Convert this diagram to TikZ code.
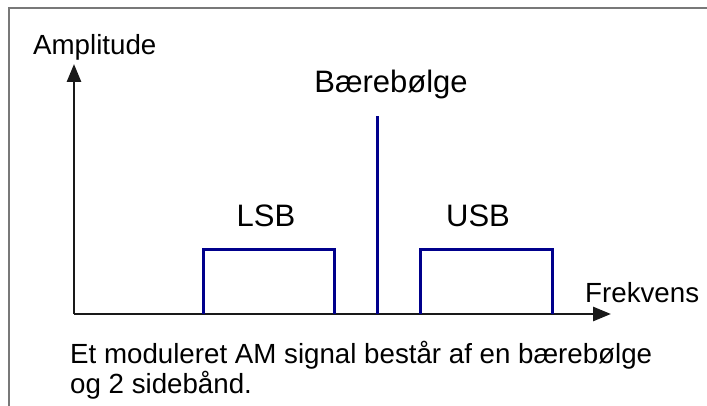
\documentclass[tikz,border=0pt]{standalone}
\usepackage{fontspec}
\setmainfont{Liberation Sans}
\usetikzlibrary{arrows.meta}
\definecolor{bandblue}{RGB}{0,0,140}
\definecolor{framegray}{RGB}{120,120,120}
\tikzset{
  axisline/.style={line width=2.8pt, black!90, -{Triangle[length=18pt,width=14pt]}},
  bandline/.style={line width=3pt, bandblue},
  smalltext/.style={inner sep=0pt, font=\fontsize{27.7}{30}\selectfont},
  bigtext/.style={inner sep=0pt, font=\fontsize{31}{34}\selectfont},
}
\begin{document}
\begin{tikzpicture}[x=1pt,y=-1pt]
\useasboundingbox (0,0) rectangle (707,406);
% frame
\draw[framegray, line width=2pt] (9,406) -- (9,8) -- (707,8);
% axes
\coordinate (origin) at (74,314);
\coordinate (ytip) at (74,64);
\coordinate (xtip) at (611,314);
\draw[axisline] (origin) -- (ytip);
\draw[axisline] (origin) -- (xtip);
% side bands
\coordinate (l1) at (203,314); \coordinate (l2) at (203,250);
\coordinate (l3) at (334,250); \coordinate (l4) at (334,314);
\draw[bandline] (l1) -- (l2) -- (l3) -- (l4);
\coordinate (u1) at (420,314); \coordinate (u2) at (420,250);
\coordinate (u3) at (552,250); \coordinate (u4) at (552,314);
\draw[bandline] (u1) -- (u2) -- (u3) -- (u4);
% carrier
\coordinate (c1) at (377,314); \coordinate (c2) at (377,116);
\draw[bandline] (c1) -- (c2);
% labels
\node[smalltext, anchor=base west] (amp) at (33,55) {Amplitude};
\node[bigtext, anchor=base] (bar) at (391,93) {Bærebølge};
\node[bigtext, anchor=base] (lsb) at (266,227) {LSB};
\node[bigtext, anchor=base] (usb) at (478,227) {USB};
\node[smalltext, anchor=base west] (frek) at (585,302) {Frekvens};
\node[smalltext, anchor=base west] (cap1) at (70,363) {Et moduleret AM signal består af en bærebølge};
\node[smalltext, anchor=base west] (cap2) at (70,393) {og 2 sidebånd.};
\end{tikzpicture}
\end{document}
